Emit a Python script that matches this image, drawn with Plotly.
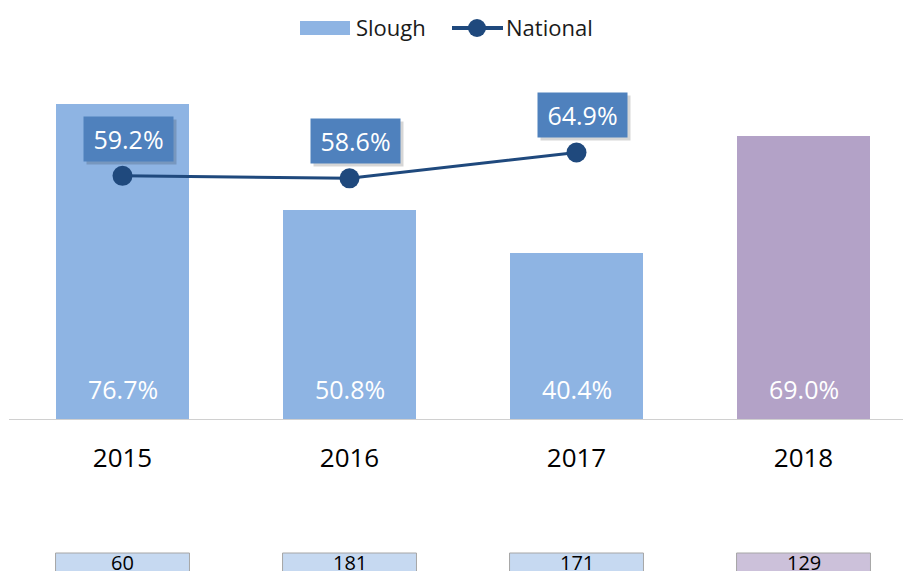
import plotly.graph_objects as go

years = ["2015", "2016", "2017", "2018"]
slough = [76.7, 50.8, 40.4, 69.0]
national = [59.2, 58.6, 64.9]
counts = [60, 181, 171, 129]
bar_colors = ["#8EB4E3", "#8EB4E3", "#8EB4E3", "#B3A2C7"]
count_fill = ["#C6D9F1", "#C6D9F1", "#C6D9F1", "#CCC1DA"]

W, H = 903, 571
ML, MR, MT, MB = 9, 0, 60, 152
PW = W - ML - MR
PH = H - MT - MB
FONT = "Open Sans, Noto Sans, sans-serif"
LINE_C = "#1F497D"
BOX_C = "#4F81BD"


def py(pix):  # pixel y -> paper y
    return (H - MB - pix) / PH


def px(pix):  # pixel x -> paper x
    return (pix - ML) / PW


xs = list(range(len(years)))
fig = go.Figure()
fig.add_trace(go.Bar(x=xs, y=slough, marker=dict(color=bar_colors, line=dict(width=0)),
                     width=0.59, showlegend=False, hoverinfo="skip"))
fig.add_trace(go.Scatter(x=xs[:len(national)], y=national, mode="lines+markers",
                         line=dict(color=LINE_C, width=3),
                         marker=dict(size=20, color=LINE_C), showlegend=False))

ann = []
shapes = []
# value labels inside bars
for i, v in enumerate(slough):
    ann.append(dict(x=i, y=0, xref="x", yref="y", text=f"{v:.1f}%", showarrow=False,
                    yshift=30, font=dict(family=FONT, size=25, color="white")))
# national labels with shadow
for i, v in enumerate(national):
    ann.append(dict(x=i, y=v, xref="x", yref="y", text=" ", showarrow=False,
                    xshift=9, yshift=34, width=85, height=40, borderpad=2,
                    bgcolor="rgba(0,0,0,0.16)", font=dict(family=FONT, size=22)))
    ann.append(dict(x=i, y=v, xref="x", yref="y", text=f"{v:.1f}%", showarrow=False,
                    xshift=6, yshift=37, width=85, height=40, borderpad=2,
                    bgcolor=BOX_C, font=dict(family=FONT, size=25, color="white")))
# count boxes
for i, c in enumerate(counts):
    shapes.append(dict(type="rect", xref="x", yref="paper", x0=i - 0.295, x1=i + 0.295,
                       y0=py(553), y1=py(600), fillcolor=count_fill[i],
                       line=dict(color="#A6A6A6", width=1), layer="above"))
    ann.append(dict(x=i, y=py(562), xref="x", yref="paper", text=str(c), showarrow=False,
                    yanchor="middle", font=dict(family=FONT, size=20, color="black")))
# manual legend
shapes.append(dict(type="rect", xref="paper", yref="paper", x0=px(300), x1=px(350),
                   y0=py(35), y1=py(21), fillcolor="#8EB4E3", line=dict(width=0)))
ann.append(dict(x=px(354), y=py(27), xref="paper", yref="paper", text="Slough",
                xanchor="left", yanchor="middle", showarrow=False,
                font=dict(family=FONT, size=22, color="#1a1a1a")))
shapes.append(dict(type="line", xref="paper", yref="paper", x0=px(452), x1=px(503),
                   y0=py(28), y1=py(28), line=dict(color=LINE_C, width=4)))
shapes.append(dict(type="circle", xref="paper", yref="paper", x0=px(468), x1=px(486),
                   y0=py(37), y1=py(19), fillcolor=LINE_C, line=dict(width=0)))
ann.append(dict(x=px(504), y=py(27), xref="paper", yref="paper", text="National",
                xanchor="left", yanchor="middle", showarrow=False,
                font=dict(family=FONT, size=22, color="#1a1a1a")))

fig.update_layout(
    width=W, height=H, margin=dict(l=ML, r=MR, t=MT, b=MB, pad=0),
    paper_bgcolor="white", plot_bgcolor="white",
    annotations=ann, shapes=shapes, bargap=0,
    xaxis=dict(range=[-0.5, -0.5 + PW / 227], tickvals=xs, ticktext=years,
               showgrid=False, zeroline=False, showline=True, linecolor="#D0D0D0",
               linewidth=1, ticks="", ticklabelstandoff=16,
               tickfont=dict(family=FONT, size=26, color="black")),
    yaxis=dict(range=[0, PH / 4.107], visible=False, showgrid=False, zeroline=False),
)
fig.write_html("out.html", config={"displayModeBar": False},
               post_script="document.body.style.margin='0';")
